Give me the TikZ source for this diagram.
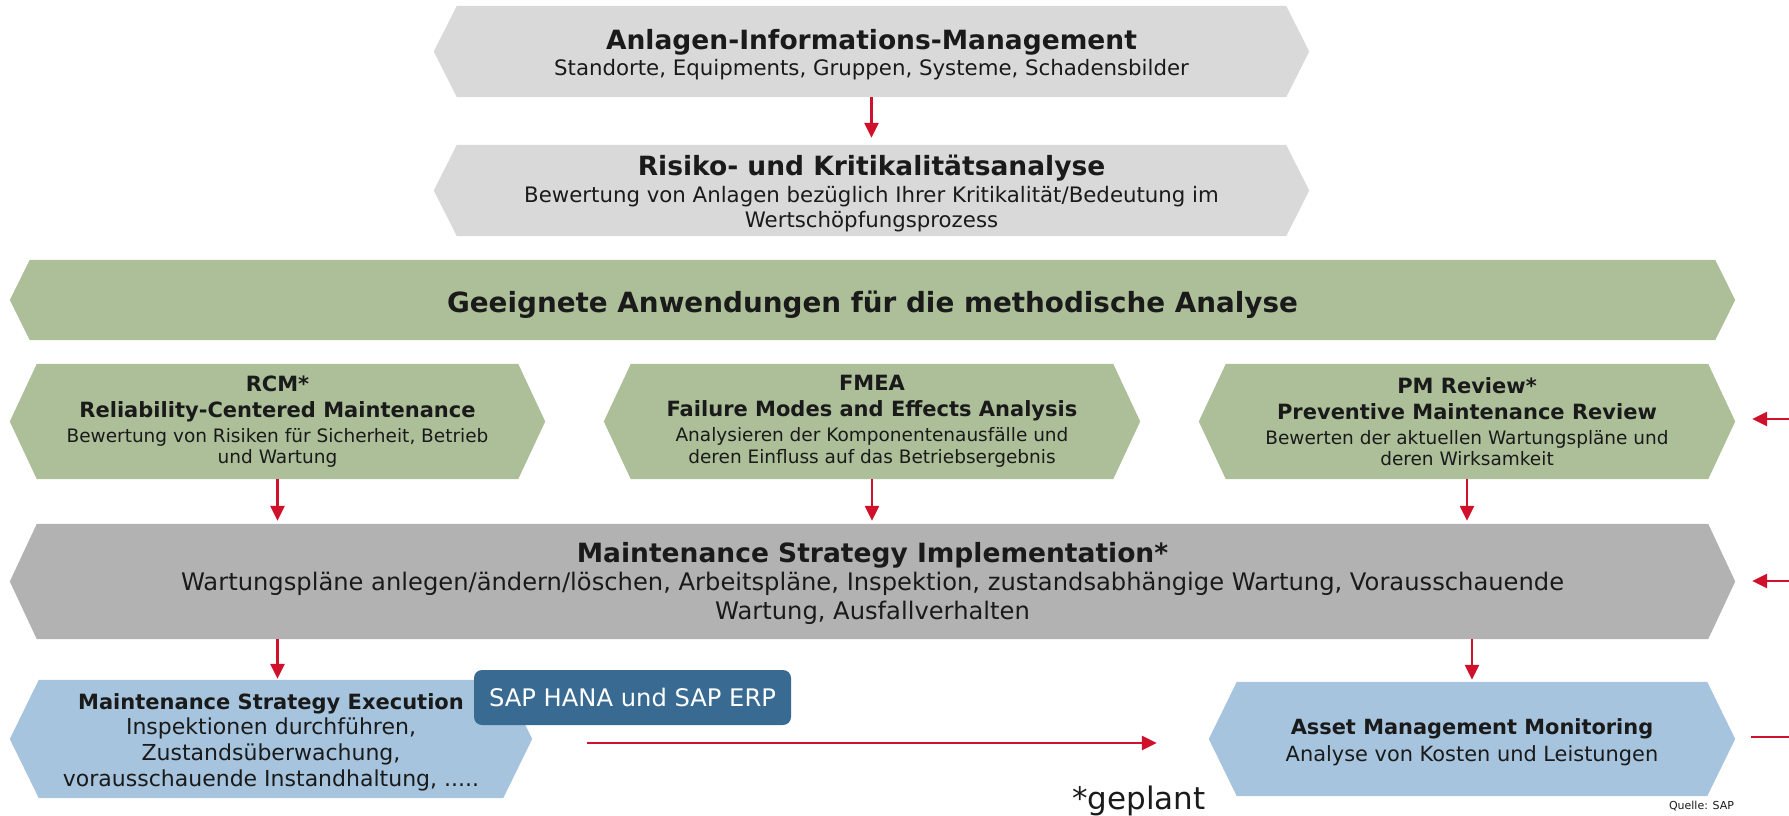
\documentclass[tikz,border=0pt]{standalone}
\usepackage{fontspec}
\setmainfont{DejaVu Sans}
\usetikzlibrary{arrows.meta,backgrounds}
\definecolor{boxgray}{HTML}{D9D9D9}
\definecolor{boxgreen}{HTML}{ACBF99}
\definecolor{boxdark}{HTML}{B2B2B2}
\definecolor{boxblue}{HTML}{A6C4DE}
\definecolor{sapblue}{HTML}{386A92}
\definecolor{arrred}{HTML}{D0112B}
\definecolor{txt}{HTML}{1A1A1A}
\newcommand\fs[2]{\fontsize{#1}{#2}\selectfont}
\newcommand\tstrut[1]{\rule{0pt}{#1pt}}
\newcommand\hexfill[3]{\fill[#2] ([xshift=#3]#1.north west) -- ([xshift=-#3]#1.north east) -- (#1.east) -- ([xshift=-#3]#1.south east) -- ([xshift=#3]#1.south west) -- (#1.west) -- cycle;}
\begin{document}
\begin{tikzpicture}[x=1pt,y=-1pt,
  hexa/.style n args={2}{minimum width=#1, minimum height=#2, inner sep=0pt, align=center, text=txt},
  arr/.style={draw=arrred, line width=2.6pt, -{Triangle[length=15pt,width=14pt]}},
  plainline/.style={draw=arrred, line width=2.6pt},
]
\useasboundingbox (0,0) rectangle (1789,815);

% top boxes
\node[hexa={875}{91}, font=\fs{21.3}{26}] (aim) at (871.5,51.5)
  {{\fs{26.5}{30}\bfseries\tstrut{27}Anlagen-Informations-Management}\\Standorte, Equipments, Gruppen, Systeme, Schadensbilder};
\node[hexa={875}{91}, font=\fs{21.3}{25}] (risk) at (871.5,190.5)
  {{\fs{26.5}{30}\bfseries\tstrut{27}Risiko- und Kritikalitätsanalyse}\\[2pt]Bewertung von Anlagen bezüglich Ihrer Kritikalität/Bedeutung im\\Wertschöpfungsprozess};

% banner
\node[hexa={1725}{80}, font=\fs{27.8}{32}\bfseries] (banner) at (872.5,300)
  {\tstrut{31}Geeignete Anwendungen für die methodische Analyse};

% three green
\node[hexa={535}{115}, font=\fs{18.5}{21.5}] (rcm) at (277.5,421.5)
  {{\fs{21}{25}\bfseries RCM*}\\[4.5pt]{\fs{21}{25}\bfseries Reliability-Centered Maintenance}\\[3.5pt]Bewertung von Risiken für Sicherheit, Betrieb\\und Wartung};
\node[hexa={536}{115}, font=\fs{18.5}{21.5}] (fmea) at (872,421.5)
  {{\fs{21}{25}\bfseries FMEA}\\[4.5pt]{\fs{21}{25}\bfseries Failure Modes and Effects Analysis}\\[3.5pt]Analysieren der Komponentenausfälle und\\deren Einfluss auf das Betriebsergebnis};
\node[hexa={536}{115}, font=\fs{18.5}{21.5}] (pm) at (1467,421.5)
  {{\fs{21}{25}\bfseries PM Review*}\\[4.5pt]{\fs{21}{25}\bfseries Preventive Maintenance Review}\\[3.5pt]Bewerten der aktuellen Wartungspläne und\\deren Wirksamkeit};

% gray implementation
\node[hexa={1725}{115}, font=\fs{24.2}{29}] (impl) at (872.5,581.5)
  {{\fs{26.5}{30}\bfseries\tstrut{24}Maintenance Strategy Implementation*}\\[-1pt]Wartungspläne anlegen/ändern/löschen, Arbeitspläne, Inspektion, zustandsabhängige Wartung, Vorausschauende\\Wartung, Ausfallverhalten};

% blue boxes
\node[hexa={522}{118}, font=\fs{22}{25.7}] (exec) at (271,739)
  {{\fs{21}{25}\bfseries\tstrut{22}Maintenance Strategy Execution}\\Inspektionen durchführen,\\Zustandsüberwachung,\\vorausschauende Instandhaltung, .....};
\node[hexa={526}{114}, font=\fs{20.9}{27}] (mon) at (1472,739)
  {{\fs{20.9}{27}\bfseries\tstrut{22}Asset Management Monitoring}\\Analyse von Kosten und Leistungen};

\node[rounded corners=8pt, fill=sapblue, text=white, minimum width=317, minimum height=55, inner sep=0pt, font=\fs{24.2}{28}] (sap) at (632.5,697.5) {SAP HANA und SAP ERP};

\node[anchor=base, font=\fs{31}{35}, text=txt] (geplant) at (1139,809) {*geplant};
\node[anchor=base, font=\fs{11}{13}, text=txt] (quelle) at (1701.5,809) {Quelle: SAP};

\begin{pgfonlayer}{background}
\hexfill{aim}{boxgray}{23}
\hexfill{risk}{boxgray}{23}
\hexfill{banner}{boxgreen}{20}
\hexfill{rcm}{boxgreen}{27}
\hexfill{fmea}{boxgreen}{27}
\hexfill{pm}{boxgreen}{27}
\hexfill{impl}{boxdark}{27}
\hexfill{exec}{boxblue}{29}
\hexfill{mon}{boxblue}{28}
\end{pgfonlayer}

% connectors
\draw[arr, shorten >=7pt] (aim.south) -- (risk.north);
\draw[arr, shorten >=3pt] (rcm.south) -- (impl.north -| rcm.south);
\draw[arr, shorten >=3pt] (fmea.south) -- (impl.north -| fmea.south);
\draw[arr, shorten >=3pt] (pm.south) -- (impl.north -| pm.south);
\draw[arr, shorten >=1pt] (impl.south -| rcm.south) -- (exec.north -| rcm.south);
\draw[arr, shorten >=2pt] (impl.south -| mon.north) -- (mon.north);
\draw[arr, shorten <=55pt, shorten >=52pt] ([yshift=-4pt]exec.east) -- ([yshift=-4pt]mon.west);

\coordinate (inpm) at (1789,419);
\coordinate (inimpl) at (1789,581);
\coordinate (outmon) at (1789,737);
\draw[arr, shorten >=17pt] (inpm) -- (pm.east |- inpm);
\draw[arr, shorten >=17pt] (inimpl) -- (impl.east |- inimpl);
\draw[plainline, shorten <=16pt] (mon.east |- outmon) -- (outmon);
\end{tikzpicture}
\end{document}
